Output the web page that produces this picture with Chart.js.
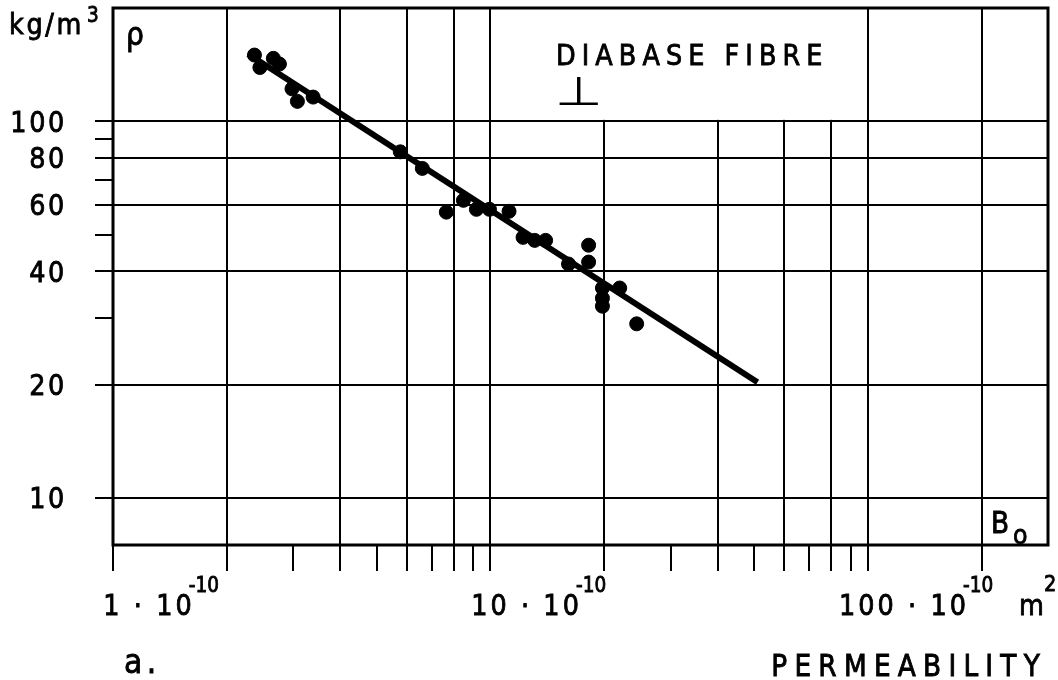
<!DOCTYPE html>
<html>
<head>
<meta charset="utf-8">
<script src="https://cdn.jsdelivr.net/npm/chart.js@4.4.1/dist/chart.umd.min.js"></script>
<style>
  html, body { margin: 0; padding: 0; background: #fff; }
</style>
</head>
<body>
<canvas id="chart" width="1058" height="680"></canvas>
<script>
// Permeability B0 in units of 1e-10 m^2, density rho in kg/m^3
const permeability = [2.37, 2.45, 2.66, 2.76, 2.98, 3.08, 3.39, 5.77, 6.6, 7.64, 8.48, 9.18, 9.94, 11.2, 12.2, 13.1, 14.0, 16.1, 18.2, 18.2, 19.8, 19.8, 19.8, 22.0, 24.4];
const density = [150, 139, 147, 142, 122, 113, 116, 83, 75, 57.4, 61.7, 58.4, 58.4, 57.7, 49.2, 48.3, 48.3, 41.8, 46.9, 42.3, 36.1, 33.9, 32.3, 36.1, 29.0];

// fitted line
const fitX = [2.28, 51];
const fitY = [151, 20.3];

// axes
const xTicks = [1, 2, 3, 4, 5, 6, 7, 8, 9, 10, 20, 30, 40, 50, 60, 70, 80, 90, 100, 200];
const xGrid = [1, 2, 4, 6, 8, 10, 20, 40, 60, 80, 100, 200];
const xLabels = [1, 10, 100];
const yTicks = [10, 20, 30, 40, 50, 60, 70, 80, 90, 100];
const yGrid = [10, 20, 40, 60, 80, 100];
const yLabels = [10, 20, 40, 60, 80, 100];

const FONT = '"DejaVu Sans", sans-serif';
const SX = 0.88; // schmalere Schrift

// text with horizontal squeeze and a thin outline, returns drawn width
function txt(ctx, s, x, y, size, align, spacing, sx) {
  sx = sx || SX;
  ctx.save();
  ctx.font = size + "px " + FONT;
  ctx.letterSpacing = (spacing || 0) + "px";
  ctx.textAlign = align || "left";
  ctx.translate(x, y);
  ctx.scale(sx, 1);
  ctx.fillText(s, 0, 0);
  ctx.lineWidth = 0.9;
  ctx.strokeText(s, 0, 0);
  const w = ctx.measureText(s).width * sx;
  ctx.restore();
  return w;
}

function measure(ctx, s, size, spacing, sx) {
  ctx.save();
  ctx.font = size + "px " + FONT;
  ctx.letterSpacing = (spacing || 0) + "px";
  const w = ctx.measureText(s).width * (sx || SX);
  ctx.restore();
  return w;
}

// Rahmen, weisses Feld oben und Beschriftung
const frame = {
  id: "frame",
  beforeDatasetsDraw(chart) {
    const { ctx, chartArea: a, scales: { x, y } } = chart;
    ctx.save();
    ctx.fillStyle = "#fff";
    const l = x.getPixelForValue(10) + 1.5;
    const r = x.getPixelForValue(100) - 1.5;
    const b = y.getPixelForValue(100) - 1.5;
    ctx.fillRect(l, a.top, r - l, b - a.top);
    ctx.strokeStyle = "#000";
    ctx.lineWidth = 3;
    ctx.strokeRect(a.left, a.top, a.right - a.left, a.bottom - a.top);
    ctx.restore();
  },
  afterDraw(chart) {
    const { ctx, scales: { x, y } } = chart;
    ctx.save();
    ctx.fillStyle = "#000";
    ctx.strokeStyle = "#000";
    ctx.textBaseline = "alphabetic";

    yLabels.forEach((v) => {
      txt(ctx, String(v), 67, y.getPixelForValue(v) + 10.5, 29, "right", 3);
    });

    xLabels.forEach((v) => {
      const px = x.getPixelForValue(v);
      const nw = measure(ctx, String(v), 29, 3.5);
      const sx = px - nw / 2;
      const mw = txt(ctx, v + " · 10", sx, 615, 29, "left", 3.5);
      txt(ctx, "-10", sx + mw - 6, 592, 21, "left", 0);
    });
    txt(ctx, "m", 1019, 615, 29, "left", 0);
    txt(ctx, "2", 1044, 591, 22, "left", 0);

    txt(ctx, "kg/m", 9, 34, 29, "left", 3);
    txt(ctx, "3", 87, 22, 21, "left", 0);
    txt(ctx, "ρ", 126, 45, 32, "left", 0);

    txt(ctx, "DIABASE FIBRE", 556, 65, 29, "left", 6.9);
    ctx.save();
    ctx.translate(579, 105);
    ctx.scale(1.3, 0.95);
    ctx.font = "42px " + FONT;
    ctx.letterSpacing = "0px";
    ctx.textAlign = "center";
    ctx.fillText("⊥", 0, 0);
    ctx.restore();

    txt(ctx, "B", 991, 533, 30, "left", 0);
    txt(ctx, "o", 1013, 544, 27, "left", 0);

    txt(ctx, "a.", 124, 673, 34, "left", 5);
    txt(ctx, "PERMEABILITY", 1047, 676, 30, "right", 8.2);
    ctx.restore();
  },
};

function gridColor(list) {
  return (c) => (c.tick && list.includes(c.tick.value) ? "#000" : "rgba(0,0,0,0)");
}

new Chart(document.getElementById("chart"), {
  type: "scatter",
  data: {
    datasets: [
      {
        data: permeability.map((v, i) => ({ x: v, y: density[i] })),
        backgroundColor: "#000",
        borderColor: "#000",
        pointRadius: 7,
        pointHoverRadius: 7,
      },
      {
        data: fitX.map((v, i) => ({ x: v, y: fitY[i] })),
        showLine: true,
        borderColor: "#000",
        borderWidth: 6,
        pointRadius: 0,
      },
    ],
  },
  options: {
    responsive: false,
    animation: false,
    devicePixelRatio: 1,
    layout: { padding: { top: 8, right: 10, left: 0, bottom: 0 } },
    plugins: { legend: { display: false }, tooltip: { enabled: false } },
    scales: {
      x: {
        type: "logarithmic",
        min: 1,
        max: 300,
        afterBuildTicks: (s) => {
          s.ticks = xTicks.map((v) => ({ value: v }));
        },
        afterFit: (s) => {
          s.height = 135;
        },
        ticks: { display: false },
        border: { display: false },
        grid: {
          color: gridColor(xGrid),
          tickColor: "#000",
          lineWidth: 2,
          tickWidth: 2,
          tickLength: 26,
        },
      },
      y: {
        type: "logarithmic",
        min: 7.5,
        max: 200,
        afterBuildTicks: (s) => {
          s.ticks = yTicks.map((v) => ({ value: v }));
        },
        afterFit: (s) => {
          s.width = 113;
        },
        ticks: { display: false },
        border: { display: false },
        grid: {
          color: gridColor(yGrid),
          tickColor: "#000",
          lineWidth: 2,
          tickWidth: 2,
          tickLength: 18,
        },
      },
    },
  },
  plugins: [frame],
});
</script>
</body>
</html>
